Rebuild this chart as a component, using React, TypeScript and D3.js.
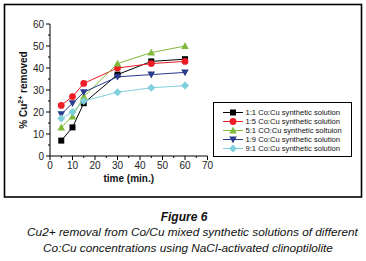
import React from "react";
import * as d3 from "d3";

const times = [5, 10, 15, 30, 45, 60];
const s11 = [7, 13, 24, 37, 43, 44];
const s15 = [23, 27, 33, 40, 42, 43];
const s51 = [13, 18, 27, 42, 47, 50];
const s19 = [19, 24, 29, 36, 37, 38];
const s91 = [17, 20, 25, 29, 31, 32];
const seriesNames = [
  "1:1 Co:Cu synthetic solution",
  "1:5 Co:Cu synthetic solution",
  "5:1 CO:Cu synthetic soltuion",
  "1:9 Co:Cu synthetic solution",
  "9:1 Co:Cu synthetic solution",
];
const xTicks = [0, 10, 20, 30, 40, 50, 60, 70];
const yTicks = [0, 10, 20, 30, 40, 50, 60];
const captionTitle = "Figure 6";
const captionLines = [
  "Cu2+ removal from Co/Cu mixed synthetic solutions of different",
  "Co:Cu concentrations using NaCl-activated clinoptilolite",
];

const colors = ["#000000", "#ee1c25", "#7fb83a", "#2a3a8c", "#7fd0dc"];
const shapes = ["square", "circle", "triangle", "triangleDown", "diamond"];
const allSeries = [s11, s15, s51, s19, s91];

function Marker({ shape, x, y, color }: { shape: string; x: number; y: number; color: string }) {
  if (shape === "square") return <rect x={x - 3} y={y - 3} width={6} height={6} fill={color} />;
  if (shape === "circle") return <circle cx={x} cy={y} r={3.4} fill={color} />;
  if (shape === "triangle")
    return <path d={`M${x},${y - 3.8}L${x + 3.8},${y + 3}L${x - 3.8},${y + 3}Z`} fill={color} />;
  if (shape === "triangleDown")
    return <path d={`M${x},${y + 3.8}L${x + 3.8},${y - 3}L${x - 3.8},${y - 3}Z`} fill={color} />;
  return <path d={`M${x},${y - 4}L${x + 4},${y}L${x},${y + 4}L${x - 4},${y}Z`} fill={color} />;
}

export default function App() {
  const W = 366, H = 261;
  const x = d3.scaleLinear().domain([0, 70]).range([50, 207.5]);
  const y = d3.scaleLinear().domain([0, 60]).range([156, 24]);
  const line = d3
    .line<number>()
    .x((_, i) => x(times[i]))
    .y((d) => y(d));
  const font = "'Liberation Sans', Arial, sans-serif";
  const minorX = d3.range(5, 70, 10);
  const minorY = d3.range(5, 60, 10);
  const legX = 213, legY = 102;
  return (
    <svg
      width={W}
      height={H}
      style={{ position: "absolute", left: 0, top: 0, background: "#fff" }}
      fontFamily={font}
    >
      <rect x={4.5} y={4.5} width={357} height={192.5} fill="none" stroke="#000" strokeWidth={1.6} />
      {/* axes */}
      <line x1={x(0)} x2={x(70)} y1={y(0)} y2={y(0)} stroke="#000" strokeWidth={1} />
      <line x1={x(0)} x2={x(0)} y1={y(0)} y2={y(60)} stroke="#000" strokeWidth={1} />
      {xTicks.map((t) => (
        <g key={"xt" + t}>
          <line x1={x(t)} x2={x(t)} y1={y(0)} y2={y(0) + 4} stroke="#000" />
          <text x={x(t)} y={y(0) + 13} fontSize={10} textAnchor="middle" fill="#222">
            {t}
          </text>
        </g>
      ))}
      {minorX.map((t) => (
        <line key={"xm" + t} x1={x(t)} x2={x(t)} y1={y(0)} y2={y(0) + 2} stroke="#000" />
      ))}
      {yTicks.map((t) => (
        <g key={"yt" + t}>
          <line x1={x(0) - 4} x2={x(0)} y1={y(t)} y2={y(t)} stroke="#000" />
          <text x={x(0) - 6} y={y(t) + 3.5} fontSize={10} textAnchor="end" fill="#222">
            {t}
          </text>
        </g>
      ))}
      {minorY.map((t) => (
        <line key={"ym" + t} x1={x(0) - 2} x2={x(0)} y1={y(t)} y2={y(t)} stroke="#000" />
      ))}
      <text x={x(35)} y={182} fontSize={10} fontWeight="bold" textAnchor="middle" fill="#111">
        time (min.)
      </text>
      <text
        transform={`translate(27,${(y(0) + y(60)) / 2}) rotate(-90)`}
        fontSize={10}
        fontWeight="bold"
        textAnchor="middle"
        fill="#111"
      >
        % Cu
        <tspan dy={-4} fontSize={7}>2+</tspan>
        <tspan dy={4}> removed</tspan>
      </text>
      {/* series */}
      {allSeries.map((s, k) => (
        <g key={"s" + k}>
          <path d={line(s) || ""} fill="none" stroke={colors[k]} strokeWidth={1} />
          {s.map((v, i) => (
            <Marker key={i} shape={shapes[k]} x={x(times[i])} y={y(v)} color={colors[k]} />
          ))}
        </g>
      ))}
      {/* legend */}
      <rect x={legX + 0.5} y={legY + 0.5} width={138} height={54} fill="#fff" stroke="#000" strokeWidth={1} />
      {seriesNames.map((n, k) => {
        const ly = legY + 10.5 + k * 9;
        return (
          <g key={"l" + k}>
            <line x1={223} x2={243} y1={ly} y2={ly} stroke={colors[k]} strokeWidth={1} />
            <Marker shape={shapes[k]} x={233} y={ly} color={colors[k]} />
            <text x={245.5} y={ly + 2.7} fontSize={7.6} fill="#111">
              {n}
            </text>
          </g>
        );
      })}
      {/* caption */}
      <text x={184} y={221} fontSize={12} fontWeight="bold" fontStyle="italic" textAnchor="middle" fill="#111">
        {captionTitle}
      </text>
      {captionLines.map((c, i) => (
        <text key={"c" + i} x={i === 0 ? 192.5 : 188} y={236 + i * 16} fontSize={11.8} fontStyle="italic" textAnchor="middle" fill="#111">
          {c}
        </text>
      ))}
    </svg>
  );
}
